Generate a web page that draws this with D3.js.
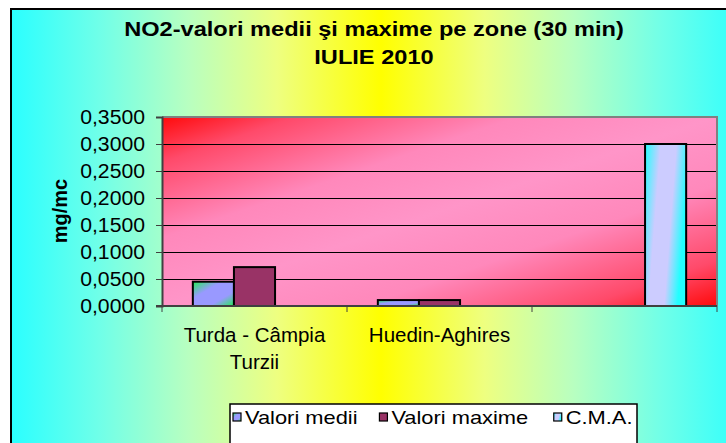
<!DOCTYPE html>
<meta charset='utf-8'>
<style>
html, body { margin: 0; padding: 0; background: #fff; }
svg { display: block; font-family: 'Liberation Sans', Arial, sans-serif; }
.grid line { stroke: #000; stroke-width: 1; }
</style>
<body>
<div id='chart'></div>
<script src='https://cdn.jsdelivr.net/npm/d3@7'></script>
<script>

// data
var categories = ['Turda - Câmpia Turzii', 'Huedin-Aghires', ''];
var series = ['Valori medii', 'Valori maxime', 'C.M.A.'];
var valoriMedii = [0.045, 0.011, 0];
var valoriMaxime = [0.072, 0.011, 0];
var cma = [0, 0, 0.3];
var yTicks = [0, 0.05, 0.1, 0.15, 0.2, 0.25, 0.3, 0.35];
var titleLines = ['NO2-valori medii şi maxime pe zone (30 min)', 'IULIE 2010'];
var yTitle = 'mg/mc';

var values = [valoriMedii, valoriMaxime, cma];
var fills = ['url(#gMedii)', '#993366', 'url(#gCma)'];

var W = 726, H = 443;
var plot = {left: 162, right: 717, top: 117, bottom: 306};

var svg = d3.select('#chart').append('svg')
    .attr('width', W)
    .attr('height', H);

var defs = svg.append('defs');
function grad(id, x2, y2, stops) {
  var g = defs.append('linearGradient').attr('id', id)
    .attr('x1', 0).attr('y1', 0).attr('x2', x2).attr('y2', y2);
  stops.forEach(function(s) {
    g.append('stop').attr('offset', s[0]).attr('stop-color', s[1]);
  });
}
grad('gBack', 1, 0, [['0%', '#2affff'], ['12%', '#70ffe8'], ['24%', '#b8ffc0'],
  ['36%', '#eeff80'], ['50%', '#ffff00'], ['64%', '#eeff80'], ['76%', '#b8ffc0'],
  ['88%', '#70ffe8'], ['100%', '#2affff']]);
grad('gPlot', 1, 1, [['0%', '#ff0a0a'], ['12%', '#ff4a6a'], ['32%', '#ff88bb'],
  ['50%', '#ff95c8'], ['68%', '#ff88bb'], ['88%', '#ff4a6a'], ['100%', '#ff0a0a']]);
grad('gMedii', 1, 1, [['0%', '#22ee55'], ['35%', '#9999ff'], ['70%', '#9999ff'], ['100%', '#22ee55']]);
grad('gCma', 1, 0.3, [['0%', '#22ffff'], ['35%', '#ccccff'], ['70%', '#ccccff'], ['100%', '#22ffff']]);

// outer chart area
svg.append('rect')
  .attr('x', 11).attr('y', 9)
  .attr('width', 740).attr('height', 460)
  .attr('fill', 'url(#gBack)')
  .attr('stroke', '#000').attr('stroke-width', 2);

// stretch text horizontally to match the wider original rendering
function stretch(sel, k) {
  sel.each(function() {
    var w = this.getComputedTextLength();
    d3.select(this).attr('textLength', w * k).attr('lengthAdjust', 'spacingAndGlyphs');
  });
}

// title
svg.append('g').selectAll('text')
  .data(titleLines)
  .join('text')
    .attr('x', 374)
    .attr('y', function(d, i) { return 36 + i * 28; })
    .attr('text-anchor', 'middle')
    .attr('font-size', 20)
    .attr('font-weight', 'bold')
    .text(function(d) { return d; })
    .call(stretch, 1.18);

var y = d3.scaleLinear().domain([0, 0.35]).range([plot.bottom, plot.top]);
var x0 = d3.scaleBand().domain(d3.range(categories.length)).range([plot.left, plot.right]);
var x1 = d3.scaleBand().domain(d3.range(series.length)).range([0, x0.bandwidth()])
  .paddingInner(0).paddingOuter(0.75);

// plot area
svg.append('rect')
  .attr('x', plot.left).attr('y', plot.top)
  .attr('width', plot.right - plot.left).attr('height', plot.bottom - plot.top)
  .attr('fill', 'url(#gPlot)');

svg.append('g').attr('class', 'grid')
  .selectAll('line')
  .data(yTicks.filter(function(d) { return d > 0 && d < 0.35; }))
  .join('line')
    .attr('x1', plot.left).attr('x2', plot.right)
    .attr('y1', function(d) { return Math.round(y(d)) + 0.5; })
    .attr('y2', function(d) { return Math.round(y(d)) + 0.5; });

svg.append('path')
  .attr('d', 'M' + plot.left + ',' + plot.top + 'H' + plot.right + 'V' + plot.bottom)
  .attr('fill', 'none').attr('stroke', '#808080').attr('stroke-width', 2);

// bars
var groups = svg.append('g').selectAll('g')
  .data(categories)
  .join('g')
    .attr('transform', function(d, i) { return 'translate(' + x0(i) + ',0)'; });

groups.selectAll('rect')
  .data(function(d, i) { return values.map(function(v, s) { return {s: s, v: v[i]}; }).filter(function(d) { return d.v > 0; }); })
  .join('rect')
    .attr('x', function(d) { return x1(d.s); })
    .attr('y', function(d) { return y(d.v); })
    .attr('width', x1.bandwidth())
    .attr('height', function(d) { return y(0) - y(d.v); })
    .attr('fill', function(d) { return fills[d.s]; })
    .attr('stroke', '#000')
    .attr('stroke-width', 2);

// y axis
var yAxis = svg.append('g')
  .attr('transform', 'translate(' + plot.left + ',0)')
  .call(d3.axisLeft(y).tickValues(yTicks).tickSize(6).tickPadding(11)
    .tickFormat(function(d) { return d3.format('.4f')(d).replace('.', ','); }));
yAxis.select('.domain').attr('stroke', '#404040').attr('stroke-width', 2);
yAxis.selectAll('.tick line').attr('stroke', '#404040');
yAxis.selectAll('text')
  .attr('font-family', "'Liberation Sans', Arial, sans-serif")
  .attr('font-size', 20).attr('fill', '#000')
  .call(stretch, 1.06);

// x axis
var xAxis = svg.append('g')
  .attr('transform', 'translate(0,' + plot.bottom + ')');
xAxis.append('line')
  .attr('x1', plot.left - 6).attr('x2', plot.right)
  .attr('stroke', '#404040').attr('stroke-width', 2);
xAxis.selectAll('line.tk')
  .data(d3.range(categories.length + 1))
  .join('line').attr('class', 'tk')
    .attr('x1', function(i) { return plot.left + i * x0.step(); })
    .attr('x2', function(i) { return plot.left + i * x0.step(); })
    .attr('y1', 0).attr('y2', 6)
    .attr('stroke', '#404040');

function wrap(text, width) {
  text.each(function() {
    var t = d3.select(this), words = t.text().split(/\s+/).reverse(), line = [], word,
        xx = t.attr('x');
    var span = t.text(null).append('tspan').attr('x', xx).attr('dy', 0);
    while ((word = words.pop())) {
      line.push(word);
      span.text(line.join(' '));
      if (span.node().getComputedTextLength() > width && line.length > 1) {
        line.pop();
        span.text(line.join(' '));
        line = [word];
        span = t.append('tspan').attr('x', xx).attr('dy', 27).text(word);
      }
    }
  });
}

xAxis.selectAll('text.cat')
  .data(categories)
  .join('text').attr('class', 'cat')
    .attr('x', function(d, i) { return x0(i) + x0.bandwidth() / 2; })
    .attr('y', 36)
    .attr('text-anchor', 'middle')
    .attr('font-size', 20.5)
    .text(function(d) { return d; })
    .call(wrap, 178);

// y title
svg.append('text')
  .attr('transform', 'translate(67,211) rotate(-90)')
  .attr('text-anchor', 'middle')
  .attr('font-size', 20)
  .attr('font-weight', 'bold')
  .text(yTitle);

// legend
var legend = svg.append('g').attr('transform', 'translate(230,404)');
legend.append('rect')
  .attr('width', 407).attr('height', 60)
  .attr('fill', '#fff').attr('stroke', '#000').attr('stroke-width', 1.5);
var lx = 3;
series.forEach(function(s, i) {
  legend.append('rect')
    .attr('x', lx).attr('y', 9).attr('width', 8).attr('height', 8)
    .attr('fill', fills[i]).attr('stroke', '#000').attr('stroke-width', 1.2);
  var t = legend.append('text')
    .attr('x', lx + 12).attr('y', 20)
    .attr('font-size', 19)
    .text(s)
    .call(stretch, 1.15);
  lx += 12 + t.node().getComputedTextLength() * 1.15 + 5;
});

</script>
</body>
